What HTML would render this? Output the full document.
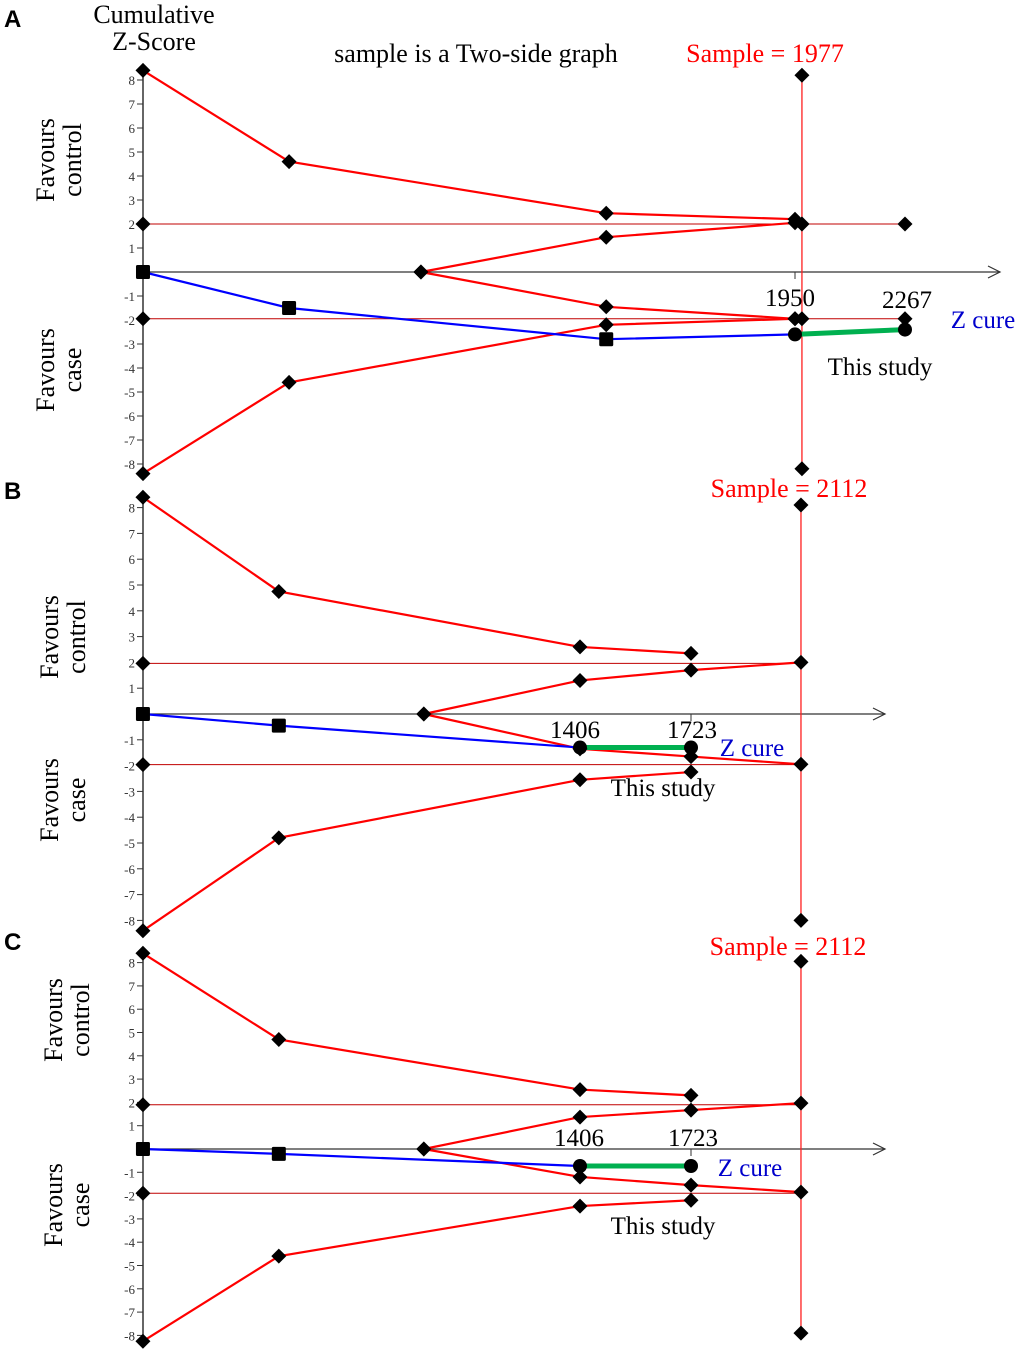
<!DOCTYPE html>
<html><head><meta charset="utf-8"><style>
body{margin:0;background:#fff;}
svg{display:block;font-family:"Liberation Serif",serif;}
.pl{font-family:"Liberation Sans",sans-serif;font-weight:bold;font-size:24px;}
</style></head><body>
<svg id="chart" width="1020" height="1353" viewBox="0 0 1020 1353">
<text class="pl" x="4" y="27">A</text>
<text class="pl" x="4" y="499">B</text>
<text class="pl" x="4" y="950">C</text>
<text x="154" y="23" font-size="26" text-anchor="middle">Cumulative</text>
<text x="154" y="50" font-size="26" text-anchor="middle">Z-Score</text>
<text x="476" y="62" font-size="26" text-anchor="middle">sample is a Two-side graph</text>
</svg>
<script>
// Panel A data
const aOuterUpperN = [71, 492, 1406, 1950, 1970];
const aOuterUpperZ = [8.4, 4.6, 2.45, 2.2, 2.0];
const aInnerUpperN = [872, 1406, 1950, 1970];
const aInnerUpperZ = [0, 1.45, 2.05, 2.0];
const aInnerLowerN = [872, 1406, 1950, 1970];
const aInnerLowerZ = [0, -1.45, -1.95, -1.95];
const aOuterLowerN = [71, 492, 1406, 1950];
const aOuterLowerZ = [-8.4, -4.6, -2.2, -1.95];
const aCumN = [71, 492, 1406, 1950];
const aCumZ = [0, -1.5, -2.8, -2.6];
const aCureN = [1950, 2267];
const aCureZ = [-2.6, -2.4];
const aRIS = 1970;
const aBound = [2.0, -1.95];
// Panel B data
const bOuterUpperN = [158, 546, 1406, 1723];
const bOuterUpperZ = [8.4, 4.75, 2.6, 2.35];
const bInnerUpperN = [960, 1406, 1723, 2037];
const bInnerUpperZ = [0, 1.3, 1.7, 2.0];
const bInnerLowerN = [960, 1406, 1723, 2037];
const bInnerLowerZ = [0, -1.35, -1.65, -1.95];
const bOuterLowerN = [158, 546, 1406, 1723];
const bOuterLowerZ = [-8.4, -4.8, -2.55, -2.25];
const bCumN = [158, 546, 1406];
const bCumZ = [0, -0.45, -1.3];
const bCureN = [1406, 1723];
const bCureZ = [-1.3, -1.3];
const bRIS = 2037;
const bBound = [1.96, -1.96];
// Panel C data
const cOuterUpperN = [158, 546, 1406, 1723];
const cOuterUpperZ = [8.4, 4.7, 2.55, 2.3];
const cInnerUpperN = [960, 1406, 1723, 2037];
const cInnerUpperZ = [0, 1.37, 1.67, 1.97];
const cInnerLowerN = [960, 1406, 1723, 2037];
const cInnerLowerZ = [0, -1.2, -1.55, -1.85];
const cOuterLowerN = [158, 546, 1406, 1723];
const cOuterLowerZ = [-8.25, -4.6, -2.45, -2.2];
const cCumN = [158, 546, 1406];
const cCumZ = [0, -0.21, -0.73];
const cCureN = [1406, 1723];
const cCureZ = [-0.73, -0.73];
const cRIS = 2037;
const cBound = [1.9, -1.9];
const yTicks = [8, 7, 6, 5, 4, 3, 2, 1, -1, -2, -3, -4, -5, -6, -7, -8];

const NS = "http://www.w3.org/2000/svg";
const svg = document.getElementById('chart');
function mk(tag, attrs, parent) {
  const e = document.createElementNS(NS, tag);
  for (const k in attrs) e.setAttribute(k, attrs[k]);
  (parent || svg).appendChild(e);
  return e;
}
function line(x, y, n, z, color, w, name, g) {
  const pts = n.map((v, i) => x(v) + ',' + y(z[i])).join(' ');
  const p = mk('polyline', {points: pts, fill: 'none', stroke: color, 'stroke-width': w}, g);
  
  
}
function diamond(cx, cy, g) {
  const p = mk('polygon', {points: `${cx},${cy-7.5} ${cx+7.5},${cy} ${cx},${cy+7.5} ${cx-7.5},${cy}`, fill: '#000'}, g);
  
  
}
function square(cx, cy, g) {
  const p = mk('rect', {x: cx-7, y: cy-7, width: 14, height: 14, rx: 1.5, fill: '#000'}, g);
  
  
}
function circle(cx, cy, g) {
  const p = mk('circle', {cx: cx, cy: cy, r: 7, fill: '#000'}, g);
  
  
}
function txt(x, y, s, size, color, anchor, name, g) {
  const t = mk('text', {x: x, y: y, 'font-size': size, fill: color, 'text-anchor': anchor || 'start'}, g);
  t.textContent = s;
  
  
  return t;
}

function panel(P) {
  const g = mk('g', {});
  
  
  const x = n => P.x0 + (n - P.n0) * P.kx;
  const y = z => P.y0 - z * P.ky;
  P.bound.forEach(b => {
    const l = mk('line', {x1: 143, x2: P.boundEnd, y1: y(b), y2: y(b), stroke: '#c00000', 'stroke-width': 1}, g);
    
    
  });
  const ya = mk('line', {x1: 143, x2: 143, y1: y(8.6), y2: y(-8.3), stroke: '#333', 'stroke-width': 1.5}, g);
  
  
  yTicks.forEach(k => {
    mk('line', {x1: 137, x2: 143, y1: y(k), y2: y(k), stroke: '#333', 'stroke-width': 1}, g);
    txt(135, y(k) + 5, String(k), 13, '#333', 'end', 'y-tick-label', g);
  });
  const xa = mk('line', {x1: 143, x2: P.axisEnd, y1: y(0), y2: y(0), stroke: '#333', 'stroke-width': 1.2}, g);
  
  
  mk('polyline', {points: `${P.axisEnd-12},${y(0)-6} ${P.axisEnd},${y(0)} ${P.axisEnd-12},${y(0)+6}`, fill: 'none', stroke: '#333', 'stroke-width': 1.2}, g);
  mk('line', {x1: x(P.tickN), x2: x(P.tickN), y1: y(0), y2: y(0) + 7, stroke: '#333', 'stroke-width': 1}, g);
  const rl = mk('line', {x1: x(P.ris), x2: x(P.ris), y1: y(P.risTop), y2: y(P.risBot), stroke: '#ff2020', 'stroke-width': 1.3}, g);
  
  
  line(x, y, P.ouN, P.ouZ, '#ff0000', 2.2, 'upper-boundary', g);
  line(x, y, P.iuN, P.iuZ, '#ff0000', 2.2, 'upper-futility-boundary', g);
  line(x, y, P.ilN, P.ilZ, '#ff0000', 2.2, 'lower-futility-boundary', g);
  line(x, y, P.olN, P.olZ, '#ff0000', 2.2, 'lower-boundary', g);
  line(x, y, P.cumN, P.cumZ, '#0000ff', 2.2, 'cumulative-z-curve', g);
  line(x, y, P.cureN, P.cureZ, '#00b050', 5, 'this-study-segment', g);
  [P.ouN, P.iuN, P.ilN, P.olN].forEach((ns, j) => {
    const zs = [P.ouZ, P.iuZ, P.ilZ, P.olZ][j];
    ns.forEach((n, i) => diamond(x(n), y(zs[i]), g));
  });
  P.bound.forEach(b => diamond(x(P.n0first), y(b), g));
  P.extraN.forEach((n, i) => diamond(x(n), y(P.extraZ[i]), g));
  diamond(x(P.ris), y(P.risTop), g);
  diamond(x(P.ris), y(P.risBot), g);
  P.cumN.forEach((n, i) => { if (i < P.cumN.length - 1 || P.lastSquare) square(x(n), y(P.cumZ[i]), g); });
  P.cureN.forEach((n, i) => circle(x(n), y(P.cureZ[i]), g));
  [[P.ctrlY, 'Favours', 'control', 'favours-control-label'], [P.caseY, 'Favours', 'case', 'favours-case-label']].forEach(a => {
    const t1 = txt(0, 0, a[1], 26, '#000', 'middle', a[3], g);
    t1.setAttribute('transform', `translate(${P.lx},${a[0]}) rotate(-90)`);
    const t2 = txt(0, 0, a[2], 26, '#000', 'middle', a[3] + '-2', g);
    t2.setAttribute('transform', `translate(${P.lx + 27},${a[0]}) rotate(-90)`);
  });
  P.labels.forEach(l => txt(l[0], l[1], l[2], l[3], l[4], 'middle', l[5], g));
}

panel({name: 'panel-a', x0: 795, n0: 1950, kx: 0.347, y0: 272, ky: 24.0, n0first: 71,
  bound: aBound, boundEnd: 905, axisEnd: 1000, tickN: 1950, ris: aRIS, risTop: 8.2, risBot: -8.2,
  ouN: aOuterUpperN, ouZ: aOuterUpperZ, iuN: aInnerUpperN, iuZ: aInnerUpperZ,
  ilN: aInnerLowerN, ilZ: aInnerLowerZ, olN: aOuterLowerN, olZ: aOuterLowerZ,
  cumN: aCumN, cumZ: aCumZ, cureN: aCureN, cureZ: aCureZ, lastSquare: false,
  extraN: [2267, 2267], extraZ: [2.0, -1.95],
  lx: 54, ctrlY: 160, caseY: 370,
  labels: [[765, 62, 'Sample = 1977', 26, '#ff0000', 'sample-size-label'],
    [790, 306, '1950', 25, '#000', 'x-label-1950'], [907, 308, '2267', 25, '#000', 'x-label-2267'],
    [983, 328, 'Z cure', 25, '#0000cc', 'z-cure-label'], [880, 375, 'This study', 25, '#000', 'this-study-label']]});

panel({name: 'panel-b', x0: 580, n0: 1406, kx: 0.3502, y0: 714, ky: 25.8, n0first: 158,
  bound: bBound, boundEnd: 801, axisEnd: 885, tickN: 1723, ris: bRIS, risTop: 8.1, risBot: -8.0,
  ouN: bOuterUpperN, ouZ: bOuterUpperZ, iuN: bInnerUpperN, iuZ: bInnerUpperZ,
  ilN: bInnerLowerN, ilZ: bInnerLowerZ, olN: bOuterLowerN, olZ: bOuterLowerZ,
  cumN: bCumN, cumZ: bCumZ, cureN: bCureN, cureZ: bCureZ, lastSquare: false,
  extraN: [], extraZ: [],
  lx: 58, ctrlY: 637, caseY: 800,
  labels: [[789, 497, 'Sample = 2112', 26, '#ff0000', 'sample-size-label'],
    [575, 738, '1406', 25, '#000', 'x-label-1406'], [692, 738, '1723', 25, '#000', 'x-label-1723'],
    [752, 756, 'Z cure', 25, '#0000cc', 'z-cure-label'], [663, 796, 'This study', 25, '#000', 'this-study-label']]});

panel({name: 'panel-c', x0: 580, n0: 1406, kx: 0.3502, y0: 1149, ky: 23.3, n0first: 158,
  bound: cBound, boundEnd: 801, axisEnd: 885, tickN: 1723, ris: cRIS, risTop: 8.05, risBot: -7.9,
  ouN: cOuterUpperN, ouZ: cOuterUpperZ, iuN: cInnerUpperN, iuZ: cInnerUpperZ,
  ilN: cInnerLowerN, ilZ: cInnerLowerZ, olN: cOuterLowerN, olZ: cOuterLowerZ,
  cumN: cCumN, cumZ: cCumZ, cureN: cCureN, cureZ: cCureZ, lastSquare: false,
  extraN: [], extraZ: [],
  lx: 62, ctrlY: 1020, caseY: 1205,
  labels: [[788, 955, 'Sample = 2112', 26, '#ff0000', 'sample-size-label'],
    [579, 1146, '1406', 25, '#000', 'x-label-1406'], [693, 1146, '1723', 25, '#000', 'x-label-1723'],
    [750, 1176, 'Z cure', 25, '#0000cc', 'z-cure-label'], [663, 1234, 'This study', 25, '#000', 'this-study-label']]});
</script>
</body></html>
